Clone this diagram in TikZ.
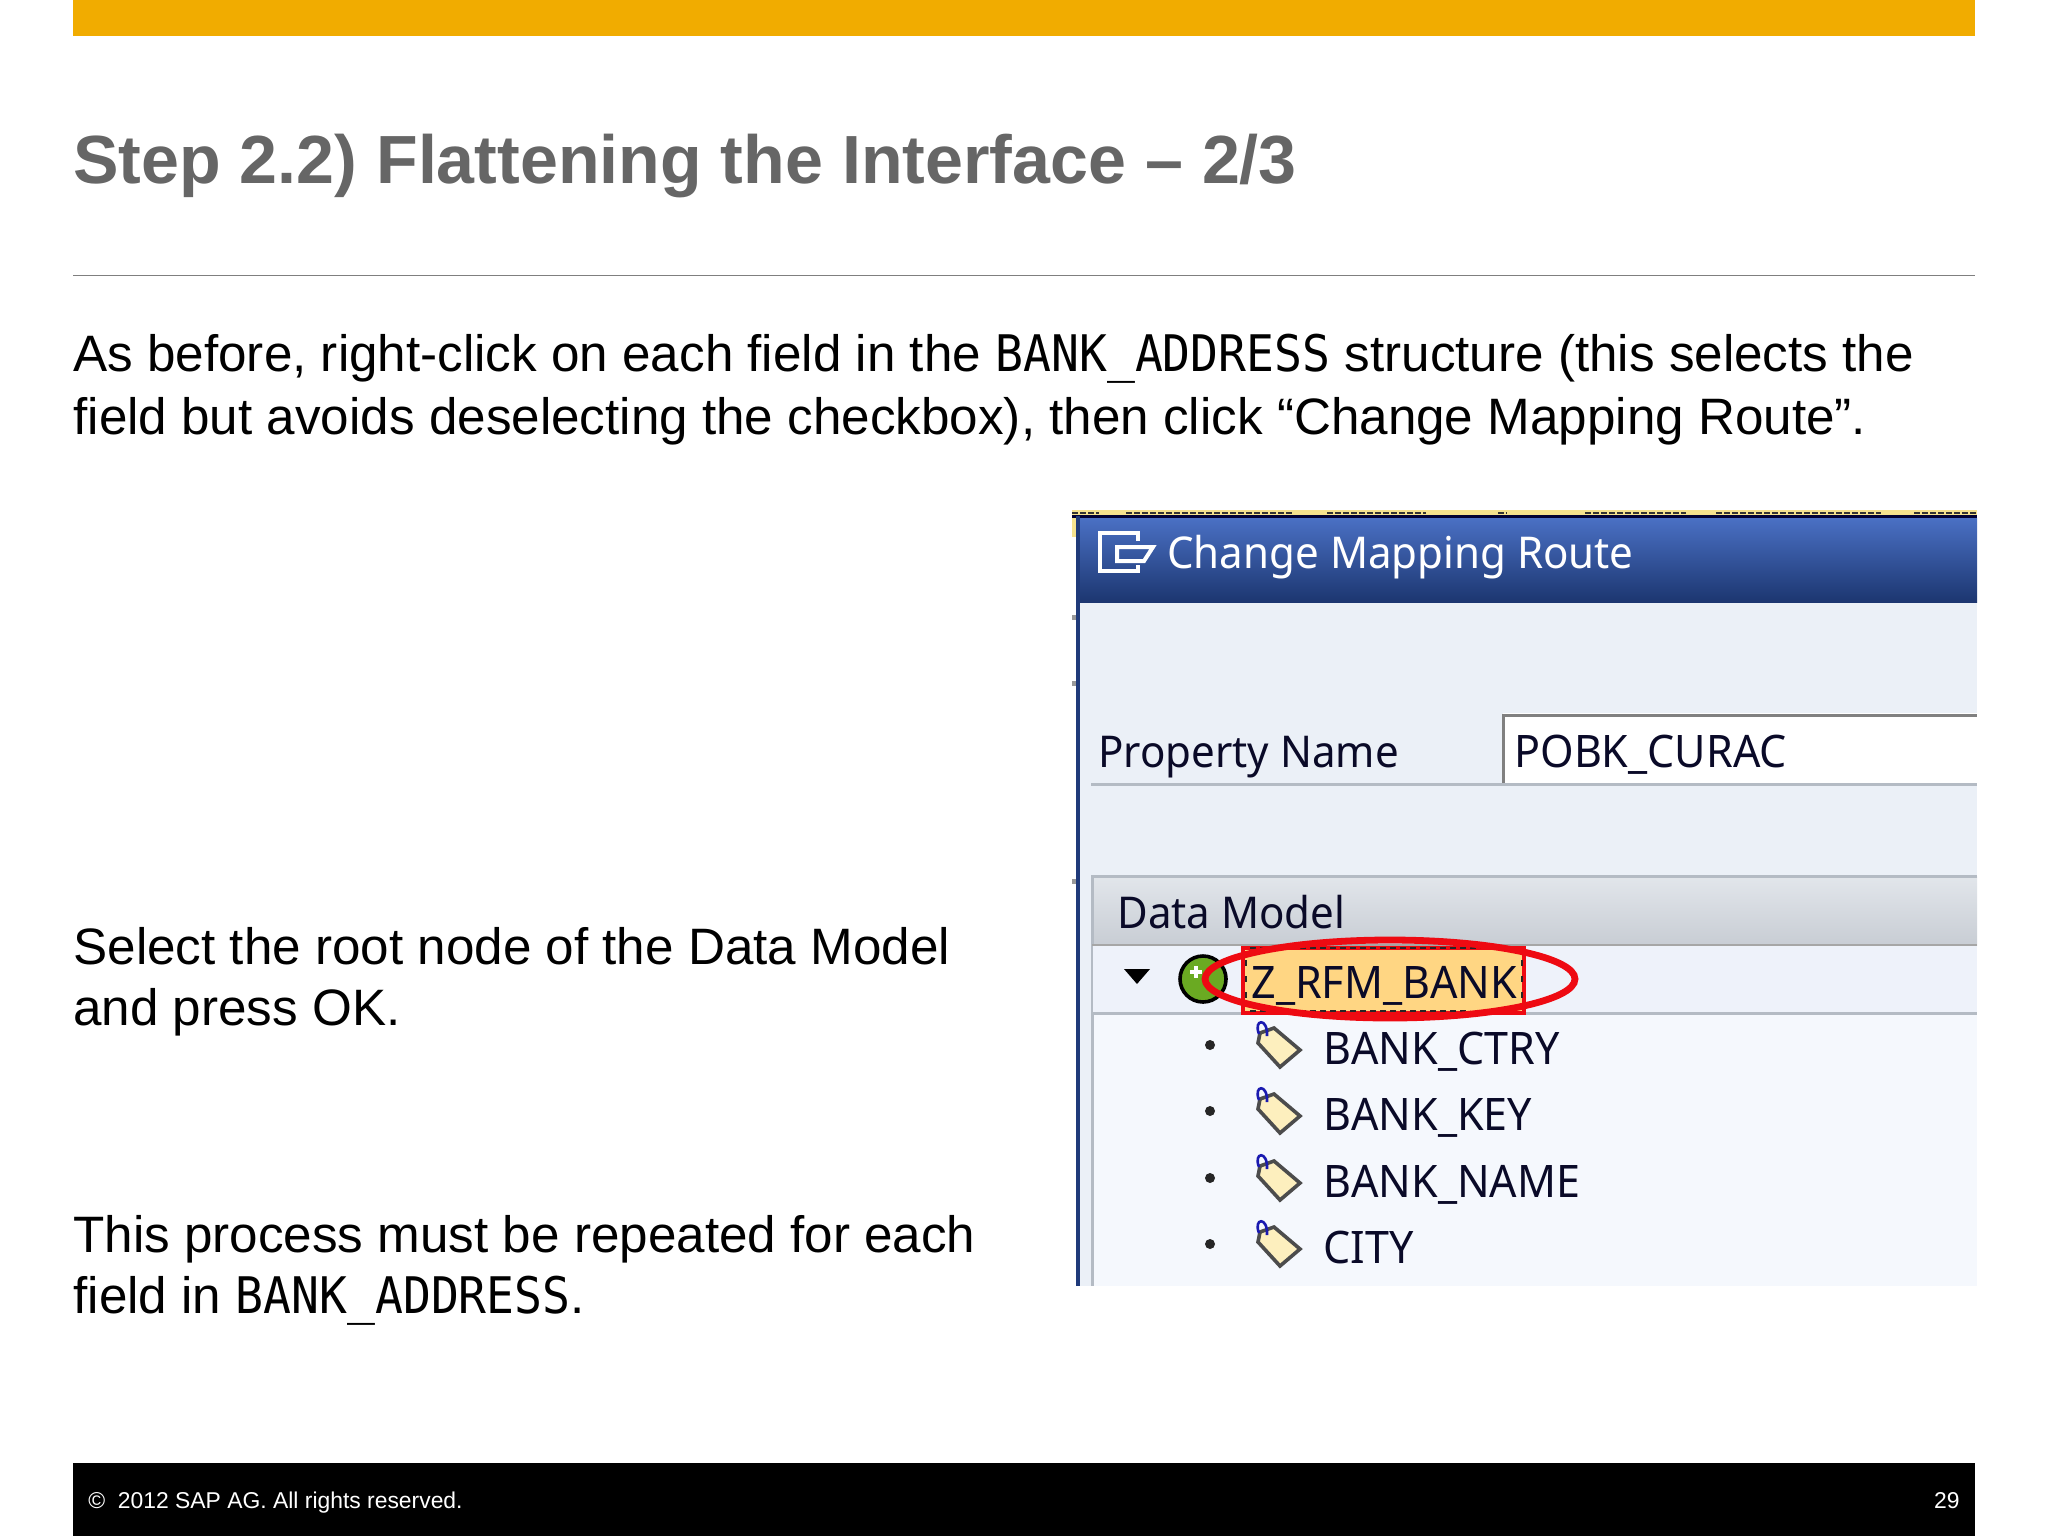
\documentclass[tikz,border=0pt]{standalone}
\usepackage{fontspec}
\setmainfont{Liberation Sans}
\newfontfamily\codefont[FakeStretch=0.92]{DejaVu Sans Mono}
\newfontfamily\shotfont[FakeStretch=0.96]{Noto Sans}
\definecolor{sapgold}{HTML}{F1AC00}
\definecolor{titlegray}{HTML}{666666}
\definecolor{rulegray}{HTML}{7F7F7F}
\definecolor{dlgbg}{HTML}{EBF0F7}
\definecolor{dlgedge}{HTML}{1F3A7A}
\definecolor{rowbg}{HTML}{EEF2FA}
\definecolor{treebg}{HTML}{F5F8FD}
\definecolor{linegray}{HTML}{B4BBC4}
\definecolor{hilite}{HTML}{FFD683}
\definecolor{sapred}{HTML}{EE0A12}
\definecolor{tagfill}{HTML}{FDEFBE}
\definecolor{stripyellow}{HTML}{F5E28E}
\definecolor{hookblue}{HTML}{1A1AB0}
\definecolor{inktext}{HTML}{0A0A28}
\definecolor{bartop}{HTML}{4A70C4}
\definecolor{barmid}{HTML}{3A5BA8}
\definecolor{barbot}{HTML}{1C3670}
\definecolor{headtop}{HTML}{E2E6EB}
\definecolor{headbot}{HTML}{C8CDD4}
\definecolor{ballgreen}{HTML}{6AAA22}
\newcommand{\bodycode}[1]{{\codefont\fontsize{25.2}{31.35}\selectfont #1}}
\tikzset{
  bodytext/.style={anchor=north west,inner sep=0pt,align=left,text=black,font=\fontsize{25.6}{31.35}\selectfont},
  sidetext/.style={bodytext,font=\fontsize{25.6}{30.5}\selectfont},
  shottext/.style={anchor=base west,inner sep=0pt,text=inktext,font=\shotfont\fontsize{22.4}{26}\selectfont},
  shotlabel/.style={shottext,font=\shotfont\fontsize{21.9}{26}\selectfont},
  foot/.style={inner sep=0pt,text=white,font=\fontsize{11.44}{14}\selectfont},
  tagicon/.pic={
    \draw[draw=black!70,line width=1.8pt,fill=tagfill]
      (1260,1033) -- (1274,1028) -- (1300,1050) -- (1280,1067) -- (1258,1043) -- cycle;
    \draw[hookblue,line width=1.3pt] (1259,1034) .. controls (1253,1019) and (1268,1017) .. (1267,1036);
  }
}
\begin{document}
\begin{tikzpicture}[x=0.5pt,y=-0.5pt]
\useasboundingbox (0,0) rectangle (2048,1536);
\fill[white] (0,0) rectangle (2048,1536);
% slide frame
\fill[sapgold] (73,0) rectangle (1975,36);
\node[anchor=base west,inner sep=0pt,text=titlegray,font=\bfseries\fontsize{34.08}{40}\selectfont] (title) at (73,183) {Step 2.2) Flattening the Interface – 2/3};
\draw[rulegray,line width=0.8pt] (73,275.5) -- (1975,275.5);
\node[bodytext] (intro) at (73,333.5) {As before, right-click on each field in the \bodycode{BANK\_ADDRESS} structure (this selects the\\field but avoids deselecting the checkbox), then click “Change Mapping Route”.};
\node[sidetext] (select) at (73,926.5) {Select the root node of the Data Model\\and press OK.};
\node[sidetext] (repeat) at (73,1214.5) {This process must be repeated for each\\field in \bodycode{BANK\_ADDRESS}.};
\fill[black] (73,1463) rectangle (1975,1536);
\node[foot,anchor=base west] (copy) at (88,1508) {©\ \ 2012 SAP AG. All rights reserved.};
\node[foot,anchor=base east] (page) at (1960,1508) {29};
% screenshot ground
\fill[dlgbg] (1076,516) rectangle (1977,1286);
\fill[treebg] (1092,1012) rectangle (1977,1286);
\fill[stripyellow] (1072,510) rectangle (1977,516);
\fill[stripyellow] (1072,516) rectangle (1076,537);
\foreach \a/\b in {1072/1099,1126/1294,1327/1426,1498/1507,1585/1686,1716/1881,1914/1977}
  \draw[black!80,line width=1.4pt,dash pattern=on 3pt off 1pt] (\a,513) -- (\b,513);
\fill[black!80!blue] (1072,515) rectangle (1977,518);
\fill[dlgedge] (1076,516) rectangle (1080,1286);
\foreach \yy in {615,681,879}
  \fill[black!40] (1072,\yy) rectangle (1076,\yy+5);
% title bar
\shade[top color=bartop,middle color=barmid,bottom color=barbot] (1080,518) rectangle (1977,602);
\draw[white,line width=2pt] (1138,541) -- (1138,533) -- (1100,533) -- (1100,571) -- (1138,571) -- (1138,565);
\draw[white,line width=2pt] (1153,547) -- (1117,547) -- (1117,561) -- (1144,561) -- cycle;
\node[shotlabel,text=white] (dlgtitle) at (1167,568) {Change Mapping Route};
% property row
\fill[white] (1503,713) rectangle (1977,784);
\draw[black!50,line width=1.5pt] (1503,784) -- (1503,715) -- (1977,715);
\draw[linegray,line width=1.5pt] (1091,784) -- (1977,784);
\node[shotlabel] (propname) at (1098,767) {Property Name};
\node[shottext] (propvalue) at (1514,767) {POBK\_CURAC};
% data model panel
\shade[top color=headtop,bottom color=headbot] (1092,876) rectangle (1977,945);
\draw[linegray,line width=1.5pt] (1977,876) -- (1092,876) -- (1092,1286);
\fill[rowbg] (1093,945) rectangle (1977,1012);
\draw[black!35,line width=1pt] (1092,945) -- (1977,945);
\draw[linegray,line width=1.5pt] (1092,1013) -- (1977,1013);
\node[shotlabel] (datamodel) at (1117,928) {Data Model};
% root row
\fill[black] (1124,969) -- (1150,969) -- (1137,984) -- cycle;
\draw[black,line width=1.8pt,fill=ballgreen] (1203,979) circle[radius=23];
\draw[white,line width=2pt] (1190,972) -- (1202,972) (1196,966) -- (1196,978);
\fill[hilite] (1243,948) rectangle (1524,1013);
\draw[sapred,line width=1.6pt] (1243,948) rectangle (1524,1013);
\draw[black!85,line width=1.4pt,dash pattern=on 3pt off 2pt] (1250,948) -- (1480,948) (1250,1011) -- (1470,1011);
\draw[black!85,line width=1.4pt,dash pattern=on 3pt off 5pt] (1246,960) -- (1246,1005) (1522,960) -- (1522,1005);
\node[shottext] (rootnode) at (1251,998) {Z\_RFM\_BANK};
\draw[sapred,line width=3.4pt] (1390,979) ellipse[x radius=185,y radius=39];
% field rows
\foreach \d/\nm/\lbl in {0/ctry/BANK\_CTRY,66/key/BANK\_KEY,133/name/BANK\_NAME,199/city/CITY}{
  \fill[black!85] (1210,1045+\d) circle[radius=5];
  \pic at (0,\d) {tagicon};
  \node[shottext] (f\nm) at (1323,1064+\d) {\lbl};
}
\end{tikzpicture}
\end{document}
